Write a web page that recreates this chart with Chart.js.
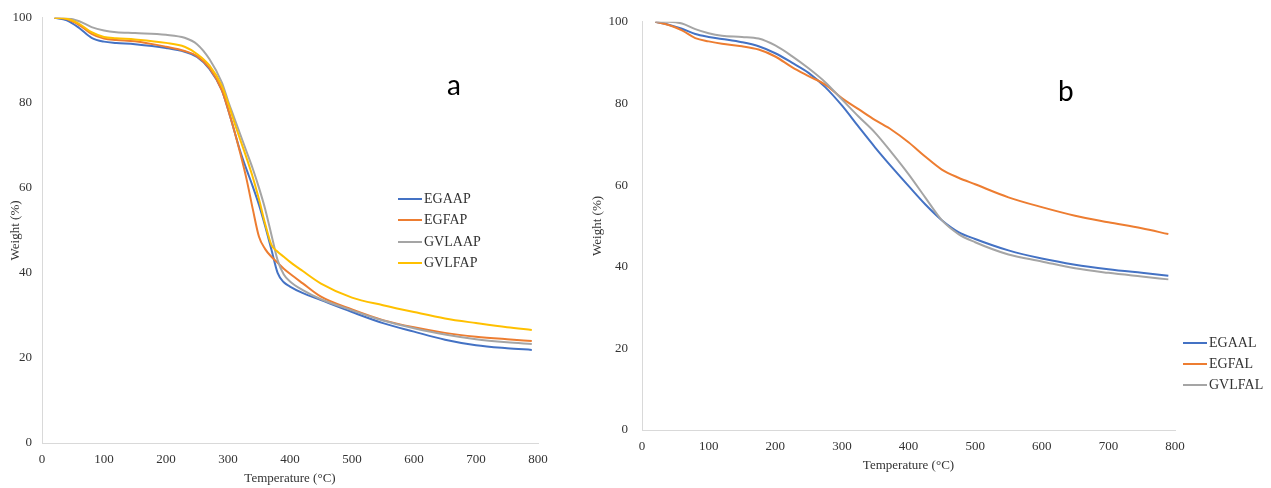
<!DOCTYPE html>
<html>
<head>
<meta charset="utf-8">
<script src="https://cdn.jsdelivr.net/npm/chart.js@4.4.1/dist/chart.umd.min.js"></script>
<style>
  body { margin: 0; background: #fff; }
  #wrap { position: relative; width: 1271px; height: 488px; overflow: hidden; }
  canvas { position: absolute; top: 0; }
  .panel { position: absolute; font-family: Lato, sans-serif; font-size: 28px; line-height: 28px; color: #000; }
  .leg { position: absolute; height: 20px; display: flex; align-items: center;
         font-family: 'Liberation Serif', serif; font-size: 14px; color: #333; white-space: nowrap; }
  .leg .ln { display: inline-block; width: 24px; height: 2px; margin-right: 2px; }
</style>
</head>
<body>
<div id="wrap">
  <canvas id="chartA" width="560" height="488" style="left:0"></canvas>
  <canvas id="chartB" width="691" height="488" style="left:580px"></canvas>
  <div class="panel" style="left:447px;top:70px">a</div>
  <div class="panel" style="left:1058px;top:76px">b</div>
</div>
<script>
// panel a
const tempA = [20, 40, 60, 80, 100, 120, 150, 200, 230, 250, 270, 290, 300, 310, 320, 330,
  340, 350, 360, 370, 380, 390, 400, 420, 450, 500, 550, 600, 650, 700, 750, 790];
const egaap = [100, 99.4, 97.6, 95.3, 94.4, 94.1, 93.8, 92.9, 92.0, 90.8, 88.0, 83.0, 78.5, 73.5, 68.5, 64.3,
  60.3, 56.0, 51.0, 45.5, 40.0, 37.8, 36.8, 35.3, 33.6, 30.8, 28.2, 26.2, 24.3, 23.0, 22.3, 21.9];
const egfap = [100, 99.7, 98.3, 96.2, 95.1, 94.8, 94.5, 93.2, 92.2, 91.0, 88.2, 83.0, 78.5, 73.5, 68.0, 62.0,
  55.0, 48.5, 45.6, 43.8, 42.4, 41.0, 39.8, 37.6, 34.4, 31.4, 28.9, 27.2, 25.9, 25.0, 24.4, 24.0];
const gvlaap = [100, 99.9, 99.2, 97.8, 97.0, 96.6, 96.4, 96.0, 95.3, 93.8, 90.3, 84.8, 80.5, 76.5, 72.5, 68.5,
  64.5, 60.0, 55.0, 49.0, 43.0, 39.6, 38.0, 36.0, 33.8, 31.2, 28.8, 27.0, 25.5, 24.4, 23.7, 23.3];
const gvlfap = [100, 99.8, 98.6, 96.6, 95.5, 95.2, 94.9, 94.1, 93.2, 91.5, 88.8, 84.0, 80.0, 75.5, 71.2, 67.0,
  62.5, 57.3, 51.5, 46.6, 45.0, 43.8, 42.6, 40.5, 37.5, 34.2, 32.4, 30.8, 29.3, 28.2, 27.2, 26.6];
const labelsA = ['EGAAP', 'EGFAP', 'GVLAAP', 'GVLFAP'];

// panel b
const tempB = [20, 40, 60, 80, 100, 120, 150, 175, 200, 225, 250, 275, 300, 325, 350, 375,
  400, 425, 450, 475, 500, 550, 600, 650, 700, 750, 790];
const egaal = [100, 99.3, 98.3, 97.0, 96.3, 95.8, 95.0, 94.0, 92.3, 90.0, 87.5, 84.0, 79.5, 74.3, 69.2, 64.4,
  59.8, 55.3, 51.4, 48.5, 46.8, 44.0, 42.0, 40.5, 39.4, 38.5, 37.8];
const egfal = [100, 99.2, 97.9, 96.0, 95.2, 94.6, 94.0, 93.2, 91.5, 88.9, 86.7, 84.6, 81.3, 78.6, 75.9, 73.5,
  70.5, 67.0, 63.8, 61.8, 60.2, 57.0, 54.6, 52.5, 50.9, 49.4, 48.0];
const gvlfal = [100, 100, 99.6, 98.2, 97.2, 96.6, 96.3, 95.9, 94.2, 91.6, 88.6, 85.2, 81.0, 76.8, 72.8, 67.9,
  62.7, 57.0, 51.4, 48.0, 46.0, 43.0, 41.3, 39.6, 38.5, 37.6, 36.9];
const labelsB = ['EGAAL', 'EGFAL', 'GVLFAL'];

const colors = ['#4472C4', '#ED7D31', '#A5A5A5', '#FFC000'];
const xTicks = { min: 0, max: 800, step: 100 };
const yTicks = { min: 0, max: 100, step: 20 };

const serif = "'Liberation Serif', 'Times New Roman', serif";
const textColor = '#333';

function makeChart(id, temps, series, labels, opt) {
  const datasets = series.map((vals, i) => ({
    label: labels[i],
    data: temps.map((t, j) => ({ x: t, y: vals[j] })),
    borderColor: colors[i],
    borderWidth: 2,
    pointRadius: 0,
    fill: false,
    cubicInterpolationMode: 'monotone',
    order: series.length - i
  }));
  return new Chart(document.getElementById(id), {
    type: 'line',
    data: { datasets },
    options: {
      responsive: false,
      animation: false,
      devicePixelRatio: 1,
      layout: { padding: opt.padding },
      plugins: { legend: { display: false }, tooltip: { enabled: false } },
      scales: {
        x: {
          type: 'linear', min: xTicks.min, max: xTicks.max,
          grid: { display: false, drawTicks: false },
          border: { color: '#d9d9d9', width: 1 },
          ticks: { stepSize: xTicks.step, padding: 9, maxRotation: 0, color: textColor, font: { family: serif, size: 13 } },
          title: { display: true, text: 'Temperature (°C)', color: textColor, padding: { top: 0, bottom: 2 }, font: { family: serif, size: 13 } },
          afterFit: s => { s.height = 45; }
        },
        y: {
          min: yTicks.min, max: yTicks.max,
          grid: { display: false, drawTicks: false },
          border: { color: '#d9d9d9', width: 1 },
          ticks: { stepSize: yTicks.step, padding: opt.yPad, color: textColor, font: { family: serif, size: 13 } },
          title: { display: true, text: 'Weight (%)', color: textColor, padding: { top: opt.titlePad, bottom: 0 }, font: { family: serif, size: 13 } },
          afterFit: s => { s.width = opt.yWidth; }
        }
      }
    }
  });
}

makeChart('chartA', tempA, [egaap, egfap, gvlaap, gvlfap], labelsA,
  { padding: { left: 0, right: 22, top: 14, bottom: 0 }, yWidth: 42, yPad: 10, titlePad: 8 });
makeChart('chartB', tempB, [egaal, egfal, gvlfal], labelsB,
  { padding: { left: 0, right: 96, top: 16, bottom: 13 }, yWidth: 62, yPad: 14, titlePad: 10 });

// legends
const wrap = document.getElementById('wrap');
function buildLegend(labels, left, top, gap) {
  labels.forEach((lab, i) => {
    const d = document.createElement('div');
    d.className = 'leg';
    d.style.left = left + 'px';
    d.style.top = (top + i * gap - 10) + 'px';
    d.innerHTML = '<span class="ln" style="background:' + colors[i] + '"></span>' + lab;
    wrap.appendChild(d);
  });
}
buildLegend(labelsA, 398, 199, 21.3);
buildLegend(labelsB, 1183, 343, 21);
</script>
</body>
</html>
